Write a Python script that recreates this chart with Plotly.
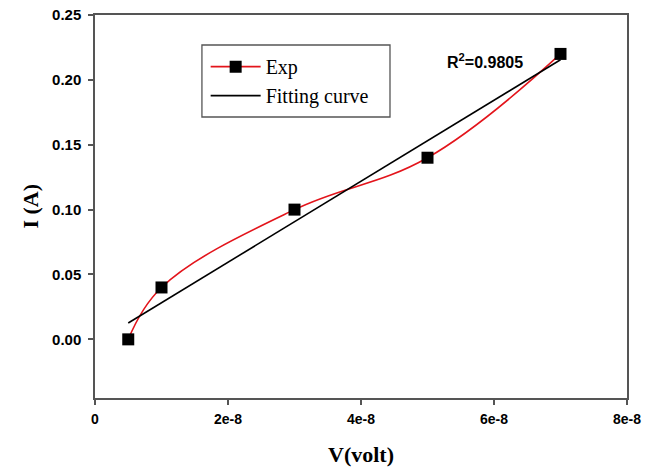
import numpy as np
import plotly.graph_objects as go

voltage = [5e-9, 1e-8, 3e-8, 5e-8, 7e-8]
current = [0.0, 0.04, 0.10, 0.14, 0.22]
x_ticks = [0, 2e-8, 4e-8, 6e-8, 8e-8]
x_tick_labels = ["0", "2e-8", "4e-8", "6e-8", "8e-8"]
y_ticks = [0.0, 0.05, 0.10, 0.15, 0.20, 0.25]
y_tick_labels = ["0.00", "0.05", "0.10", "0.15", "0.20", "0.25"]

slope, intercept = np.polyfit(voltage, current, 1)
fit_x = [voltage[0], voltage[-1]]
fit_y = [slope * v + intercept for v in fit_x]
pred = np.polyval([slope, intercept], voltage)
r2 = 1 - np.sum((np.array(current) - pred) ** 2) / np.sum((np.array(current) - np.mean(current)) ** 2)

serif = "Liberation Serif, Times New Roman, serif"
sans = "Liberation Sans, Arial, sans-serif"

fig = go.Figure()
fig.add_trace(go.Scatter(
    x=voltage, y=current, mode="lines+markers", name="Exp",
    line=dict(color="#e3141b", width=1.6, shape="spline", smoothing=1.1),
    marker=dict(symbol="square", size=12, color="black"),
))
fig.add_trace(go.Scatter(
    x=fit_x, y=fit_y, mode="lines", name="Fitting curve",
    line=dict(color="black", width=1.6),
))
fig.add_annotation(
    x=5.87e-8, y=0.2145, xref="x", yref="y", showarrow=False,
    text="R<sup>2</sup>=%.4f" % r2,
    font=dict(family=sans, size=16, color="black", weight="bold"),
)
# axis titles
fig.add_annotation(
    x=0.5, y=-0.148, xref="paper", yref="paper", showarrow=False,
    text="V(volt)", yanchor="middle",
    font=dict(family=serif, size=22, color="black", weight="bold"),
)
fig.add_annotation(
    x=-0.122, y=0.5, xref="paper", yref="paper", showarrow=False,
    text="I (A)", textangle=-90, xanchor="center",
    font=dict(family=serif, size=22, color="black", weight="bold"),
)
# legend frame
fig.add_shape(
    type="rect", xref="paper", yref="paper",
    x0=0.201, x1=0.5545, y0=0.7337, y1=0.9217,
    line=dict(color="#555", width=1.3), fillcolor="white", layer="below",
)

axis_common = dict(
    showgrid=False, zeroline=False, showline=True, linecolor="#555", linewidth=1.5,
    mirror=True, ticks="outside", ticklen=5, tickcolor="#555", tickwidth=1.5,
    automargin=False,
)
fig.update_xaxes(
    range=[0, 8e-8], tickvals=x_ticks, ticktext=x_tick_labels, ticklabelstandoff=2,
    tickfont=dict(family=sans, size=14, color="black", weight="bold"),
    **axis_common,
)
fig.update_yaxes(
    range=[-0.0452, 0.25], tickvals=y_ticks, ticktext=y_tick_labels, ticklabelstandoff=4,
    tickfont=dict(family=sans, size=15, color="black", weight="bold"),
    **axis_common,
)
fig.update_layout(
    width=654, height=468,
    margin=dict(l=95, r=27, t=15, b=70),
    plot_bgcolor="white", paper_bgcolor="white",
    showlegend=True,
    legend=dict(
        x=0.208, y=0.916, xanchor="left", yanchor="top",
        borderwidth=0, bgcolor="rgba(0,0,0,0)",
        font=dict(family=serif, size=20, color="black"),
        itemwidth=50, tracegroupgap=0,
    ),
)
fig.write_html("out.html")
